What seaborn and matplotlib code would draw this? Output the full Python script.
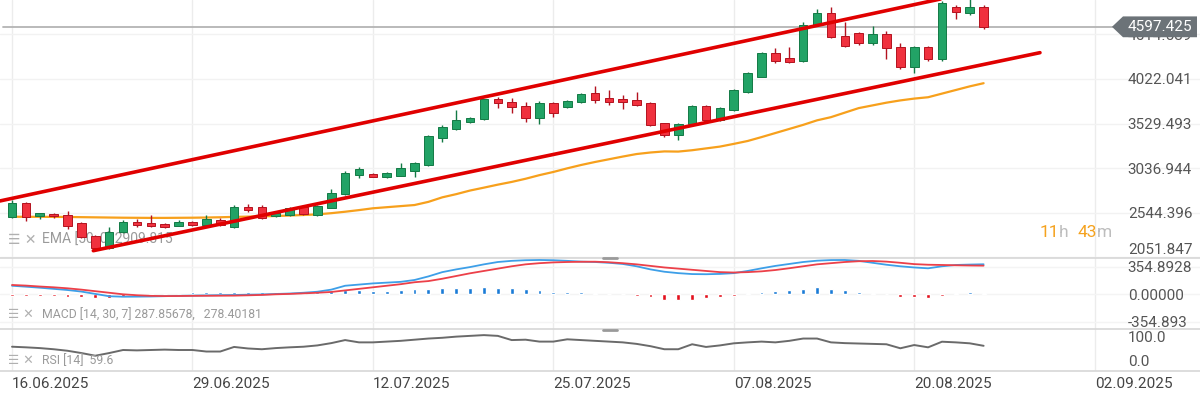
import numpy as np
import pandas as pd
import matplotlib.pyplot as plt
import seaborn as sns
from matplotlib.patches import Polygon
from matplotlib.lines import Line2D
from matplotlib.transforms import blended_transform_factory

sns.set_theme(style="white")
plt.rcParams["font.family"] = ["Roboto", "DejaVu Sans"]

# daily candles, first one on 16.06.2025
start_date = "2025-06-16"
opens = [2501, 2649, 2512, 2531, 2520, 2428, 2288, 2152, 2330, 2446,
         2435, 2421, 2402, 2446, 2410, 2465, 2391, 2611, 2611, 2509,
         2520, 2611, 2520, 2600, 2752, 2961, 2969, 2936, 2954, 3009,
         3072, 3373, 3469, 3550, 3576, 3797, 3771, 3723, 3588, 3753,
         3709, 3767, 3864, 3815, 3801, 3790, 3760, 3532, 3403, 3521,
         3723, 3569, 3679, 3881, 4047, 4312, 4250, 4223, 4617, 4753,
         4496, 4526, 4416, 4515, 4378, 4157, 4378, 4239, 4813, 4753,
         4820]
highs = [2686, 2663, 2545, 2547, 2567, 2443, 2299, 2391, 2465, 2472,
         2520, 2437, 2465, 2459, 2520, 2487, 2630, 2641, 2625, 2564,
         2608, 2630, 2630, 2804, 3006, 3047, 2983, 3000, 3091, 3108,
         3403, 3508, 3679, 3607, 3806, 3826, 3809, 3771, 3779, 3768,
         3790, 3867, 3944, 3900, 3845, 3881, 3768, 3541, 3536, 3734,
         3734, 3712, 3911, 4104, 4319, 4360, 4378, 4654, 4791, 4820,
         4654, 4540, 4606, 4555, 4416, 4391, 4391, 4887, 4838, 4956,
         4838]
lows = [2487, 2457, 2472, 2492, 2362, 2263, 2134, 2145, 2325, 2391,
        2385, 2376, 2393, 2398, 2398, 2393, 2380, 2556, 2476, 2498,
        2509, 2520, 2509, 2592, 2741, 2925, 2934, 2928, 2945, 2943,
        3061, 3329, 3458, 3541, 3569, 3698, 3643, 3550, 3521, 3599,
        3701, 3757, 3760, 3734, 3687, 3723, 3502, 3384, 3348, 3514,
        3558, 3558, 3668, 3872, 4038, 4195, 4195, 4209, 4606, 4471,
        4380, 4402, 4402, 4239, 4132, 4084, 4225, 4225, 4680, 4728,
        4570]
closes = [2649, 2501, 2539, 2509, 2398, 2274, 2152, 2336, 2446, 2410,
          2398, 2384, 2446, 2410, 2472, 2410, 2611, 2575, 2483, 2545,
          2594, 2531, 2619, 2766, 2987, 3024, 2943, 2980, 3036, 3097,
          3392, 3495, 3569, 3594, 3797, 3753, 3709, 3588, 3753, 3649,
          3779, 3856, 3790, 3771, 3764, 3734, 3514, 3403, 3521, 3723,
          3569, 3698, 3900, 4091, 4305, 4223, 4212, 4617, 4753, 4488,
          4386, 4416, 4515, 4360, 4157, 4378, 4239, 4857, 4764, 4820,
          4597.425]
ema50 = [2501, 2500, 2500, 2499, 2498, 2496, 2494, 2492, 2490, 2489,
         2488, 2488, 2489, 2490, 2492, 2495, 2499, 2502, 2505, 2509,
         2514, 2520, 2527, 2540, 2556, 2574, 2594, 2606, 2618, 2630,
         2665, 2715, 2750, 2790, 2822, 2855, 2885, 2920, 2960, 2995,
         3035, 3072, 3105, 3135, 3165, 3193, 3210, 3222, 3220, 3235,
         3255, 3275, 3305, 3337, 3380, 3425, 3470, 3515, 3565, 3600,
         3650, 3700, 3730, 3760, 3785, 3805, 3820, 3860, 3900, 3940,
         3975]
macd = [110, 98, 85, 70, 55, 35, 5, -25, -31, -30,
        -28, -24, -20, -17, -14, -11, -9, -5, -2, 4,
        10, 20, 33, 60, 110, 125, 140, 150, 160, 184,
        230, 285, 320, 350, 385, 415, 430, 438, 441, 438,
        430, 420, 415, 405, 390, 360, 320, 290, 272, 260,
        258, 262, 272, 300, 334, 365, 390, 415, 432, 440,
        441, 430, 405, 380, 360, 345, 334, 360, 377, 382,
        386]
signal = [120, 112, 100, 90, 77, 60, 40, 20, 0, -12,
          -20, -23, -22, -20, -19, -18, -17, -13, -8, 0,
          5, 12, 20, 30, 50, 70, 90, 110, 130, 155,
          170, 200, 235, 270, 300, 330, 360, 385, 400, 410,
          415, 418, 419, 412, 400, 385, 365, 345, 330, 315,
          300, 285, 280, 285, 295, 312, 335, 360, 385, 400,
          415, 425, 428, 420, 405, 388, 380, 377, 373, 370,
          368]
hist = [-25, -25, -25, -25, -30, -35, -50, -50, -35, -8,
        -3, 3, 8, 25, 25, 25, 30, 30, 28, 28,
        30, 30, 35, 40, 50, 50, 45, 45, 50, 62,
        72, 82, 82, 82, 97, 87, 78, 66, 50, 30,
        28, 25, 22, 5, 0, -20, -35, -75, -72, -68,
        -45, -40, -20, 20, 30, 48, 58, 72, 97, 68,
        58, 30, 20, 5, -35, -35, -52, -20, 20, 30,
        20]
rsi = [58.6, 57, 55, 52, 48, 42, 35, 42, 50, 49,
       50, 51, 50, 50, 46, 46, 58, 54, 52, 55,
       57, 58.6, 62, 68, 76, 70, 70, 72, 74, 77,
       80, 82, 85, 87, 89, 87, 76, 77, 72, 72,
       78, 76, 74, 72, 70, 66, 60, 52, 52, 65,
       58, 62, 67.5, 70, 72, 70, 74, 80, 80, 70,
       68, 67, 66, 65, 54.5, 63, 57, 71.7, 70, 67.5,
       61]

# hand-drawn channel lines (day offset from start, price)
upper_days = [-0.865, 68.0]
upper_vals = [2675, 4941]
lower_days = [5.86, 74.06]
lower_vals = [2126, 4312]

last_price = 4597.425
tick_dates = ["16.06.2025", "29.06.2025", "12.07.2025", "25.07.2025",
              "07.08.2025", "20.08.2025", "02.09.2025"]
price_ticks = [2051.847, 2544.396, 3036.944, 3529.493, 4022.041, 4514.589]
macd_ticks = [-354.893, 0.0, 354.8928]
macd_labels = ["-354.893", "0.00000", "354.8928"]
rsi_ticks = [0.0, 100.0]

dates = pd.date_range(start_date, periods=len(opens), freq="D")
df = pd.DataFrame({"day": (dates - dates[0]).days, "open": opens, "high": highs,
                   "low": lows, "close": closes, "ema": ema50, "macd": macd,
                   "signal": signal, "hist": hist, "rsi": rsi})
tick_x = (pd.to_datetime(tick_dates, format="%d.%m.%Y") - dates[0]).days

GREEN, GREEN_E = "#22a366", "#137a45"
RED, RED_E = "#f0313e", "#b3121f"

fig = plt.figure(figsize=(12, 3.98), dpi=100)
H = 398.0


def rect(top, bottom):
    return [0, 1 - bottom / H, 1, (bottom - top) / H]


ax = fig.add_axes(rect(0, 257.5))
ax_m = fig.add_axes(rect(257.5, 329), sharex=ax)
ax_r = fig.add_axes(rect(329, 371), sharex=ax)

for a in (ax, ax_m, ax_r):
    a.set_facecolor("white")
    for s in a.spines.values():
        s.set_visible(False)
    a.yaxis.tick_right()
    a.tick_params(axis="y", length=0, pad=-52, labelsize=11, labelcolor="#555555")
    a.tick_params(axis="x", length=0)
    a.grid(axis="x", color="#ececec", lw=1)
for a in (ax_m, ax_r):
    a.spines["top"].set_visible(True)
    a.spines["top"].set_color("#d8d8d8")
ax_r.spines["bottom"].set_visible(True)
ax_r.spines["bottom"].set_color("#d8d8d8")

ax.set_xlim(-0.865, 85.59)

# ---- price panel
ax.set_ylim(2050.7, 4893.5)
ax.set_yticks(price_ticks, labels=[f"{v:.3f}" for v in price_ticks])
ax.grid(axis="y", color="#f2f2f2", lw=1)

ax.text(8 / 1200, 0.068, "☰ ✕", transform=ax.transAxes, color="#b0b0b0",
        fontsize=10, va="center", family=["DejaVu Sans"], zorder=1)
ax.text(42 / 1200, 0.068, "EMA [50, 0] 2909.815", transform=ax.transAxes,
        color="#9a9a9a", fontsize=10, va="center", zorder=1)

up = df["close"] >= df["open"]
body_lo = np.minimum(df["open"], df["close"])
body_h = np.maximum((df["close"] - df["open"]).abs(), 25)
ax.vlines(df["day"], df["low"], df["high"], colors=np.where(up, GREEN_E, RED_E), lw=1, zorder=3)
ax.bar(df["day"], body_h, bottom=body_lo, width=0.62, color=np.where(up, GREEN, RED),
       edgecolor=np.where(up, GREEN_E, RED_E), lw=0.7, zorder=3)

sns.lineplot(data=df, x="day", y="ema", ax=ax, color="#f7a01c", lw=1.6, zorder=2)
ax.plot(upper_days, upper_vals, color="#e00000", lw=2.6, solid_capstyle="round", zorder=4)
ax.plot(lower_days, lower_vals, color="#e00000", lw=2.6, solid_capstyle="round", zorder=4)

ax.axhline(last_price, xmin=3 / 1200, xmax=1113 / 1200, color="#b4b4b4", lw=1.3, zorder=2)
tr = blended_transform_factory(ax.transAxes, ax.transData)
hh = 115
tag = Polygon([(1112 / 1200, last_price), (1123 / 1200, last_price + hh),
               (1197 / 1200, last_price + hh), (1197 / 1200, last_price - hh),
               (1123 / 1200, last_price - hh)], closed=True, transform=tr,
              facecolor="#6c7378", edgecolor="none", clip_on=False, zorder=10)
ax.add_patch(tag)
ax.text(1160 / 1200, last_price, "4597.425", transform=tr, color="white",
        fontsize=11, ha="center", va="center", zorder=11)

yt = 1 - 232 / 257.5
for xp, s, c in [(1040, "11", "#f5a21e"), (1059, "h", "#bdbdbd"),
                 (1077, "43", "#f5a21e"), (1097, "m", "#bdbdbd")]:
    ax.text(xp / 1200, yt, s, transform=ax.transAxes, color=c, fontsize=12.5,
            va="center", ha="left")

# ---- MACD panel
ax_m.set_ylim(-446, 473)
ax_m.set_yticks(macd_ticks, labels=macd_labels)
ax_m.grid(axis="y", color="#f4f4f4", lw=1)
ax_m.bar(df["day"], df["hist"], width=0.28, color=np.where(df["hist"] >= 0, "#1a7bd6", "#e3101c"),
         zorder=3)
sns.lineplot(data=df, x="day", y="macd", ax=ax_m, color="#3d9fe8", lw=1.3, zorder=4)
sns.lineplot(data=df, x="day", y="signal", ax=ax_m, color="#ec4049", lw=1.3, zorder=4)
ax_m.text(8 / 1200, (329 - 315) / 71.5, "☰ ✕", transform=ax_m.transAxes, color="#b0b0b0",
          fontsize=9, va="center", family=["DejaVu Sans"])
ax_m.text(42 / 1200, (329 - 315) / 71.5, "MACD [14, 30, 7] 287.85678,   278.40181",
          transform=ax_m.transAxes, color="#9a9a9a", fontsize=8.8, va="center")

# ---- RSI panel
ax_r.set_ylim(-5, 105)
ax_r.set_yticks(rsi_ticks, labels=[f"{v:.1f}" for v in rsi_ticks])
sns.lineplot(data=df, x="day", y="rsi", ax=ax_r, color="#6a6a6a", lw=1.4, zorder=3)
ax_r.text(8 / 1200, (371 - 361) / 42, "☰ ✕", transform=ax_r.transAxes, color="#b0b0b0",
          fontsize=9, va="center", family=["DejaVu Sans"])
ax_r.text(42 / 1200, (371 - 361) / 42, "RSI [14]  59.6",
          transform=ax_r.transAxes, color="#9a9a9a", fontsize=8.8, va="center")

ax_r.set_xticks(tick_x, labels=tick_dates, ha="left")
ax_r.tick_params(axis="x", labelsize=11, labelcolor="#444444", pad=4)
ax.tick_params(axis="x", labelbottom=False)
ax_m.tick_params(axis="x", labelbottom=False)
for a in (ax, ax_m, ax_r):
    a.set_xlabel("")
    a.set_ylabel("")

# panel resize handles
for yp in (258.3, 329.5):
    fig.add_artist(Line2D([603 / 1200, 617 / 1200], [1 - yp / H] * 2, color="#9a9a9a", lw=2))

# keep edge labels inside their panels
fig.canvas.draw()
for lbl in ax.get_yticklabels():
    if lbl.get_text() == "2051.847":
        lbl.set_va("bottom")
for lbl in ax_r.get_yticklabels():
    if lbl.get_text() == "0.0":
        lbl.set_va("bottom")
    elif lbl.get_text() == "100.0":
        lbl.set_va("top")

fig.savefig("out.png", dpi=100)
